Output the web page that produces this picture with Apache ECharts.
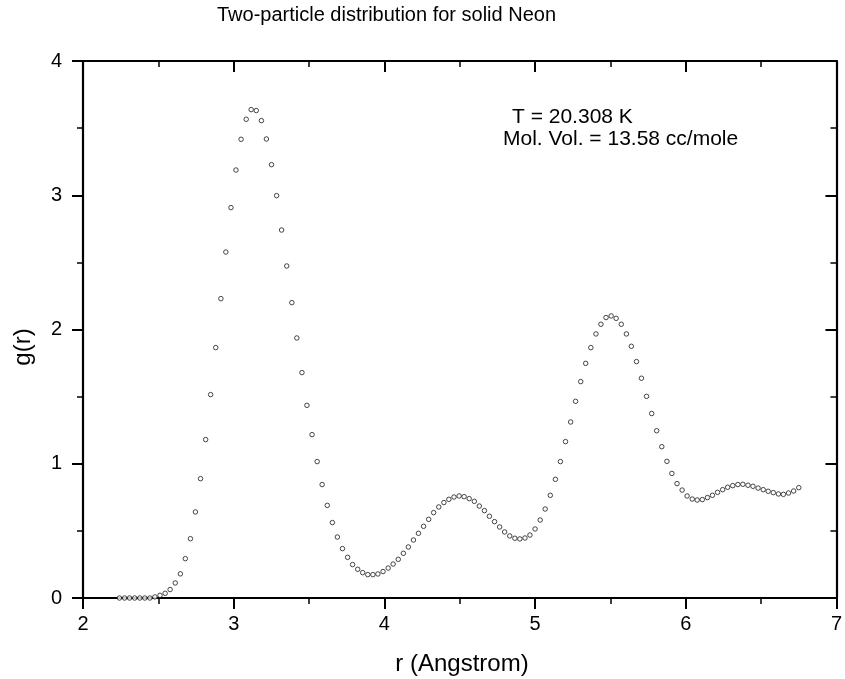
<!DOCTYPE html>
<html>
<head>
<meta charset="utf-8">
<script src="https://cdn.jsdelivr.net/npm/echarts@6/dist/echarts.min.js"></script>
<style>
html,body{margin:0;padding:0;background:#fff;}
#c{width:845px;height:679px;}
</style>
</head>
<body>
<div id="c"></div>
<script>
var rValues = [2.242,2.276,2.309,2.343,2.377,2.410,2.444,2.477,2.511,2.545,
2.578,2.612,2.646,2.679,2.713,2.746,2.780,2.814,2.847,2.881,
2.915,2.948,2.982,3.015,3.049,3.083,3.116,3.150,3.184,3.217,
3.251,3.285,3.318,3.352,3.386,3.419,3.453,3.486,3.520,3.554,
3.587,3.621,3.655,3.688,3.722,3.756,3.789,3.823,3.856,3.890,
3.924,3.957,3.991,4.025,4.058,4.092,4.126,4.159,4.193,4.226,
4.260,4.294,4.327,4.361,4.395,4.428,4.462,4.496,4.529,4.563,
4.597,4.630,4.664,4.697,4.731,4.765,4.798,4.832,4.866,4.899,
4.933,4.966,5.000,5.034,5.067,5.101,5.135,5.168,5.202,5.236,
5.269,5.303,5.336,5.370,5.404,5.437,5.471,5.505,5.538,5.572,
5.606,5.639,5.673,5.706,5.740,5.774,5.807,5.841,5.875,5.908,
5.942,5.976,6.009,6.043,6.076,6.110,6.144,6.177,6.211,6.245,
6.278,6.312,6.346,6.379,6.413,6.446,6.480,6.514,6.547,6.581,
6.615,6.648,6.682,6.716,6.750];

var gValues = [0,0,0,0,0,0,0,0.008,0.02,0.035,
0.063,0.112,0.18,0.293,0.442,0.641,0.889,1.18,1.515,1.865,
2.230,2.577,2.908,3.188,3.417,3.566,3.638,3.631,3.556,3.419,
3.228,2.997,2.741,2.473,2.200,1.937,1.679,1.435,1.217,1.016,
0.845,0.690,0.562,0.454,0.368,0.303,0.249,0.214,0.189,0.174,
0.174,0.179,0.197,0.223,0.253,0.288,0.333,0.380,0.432,0.482,
0.534,0.586,0.636,0.678,0.711,0.735,0.752,0.760,0.755,0.740,
0.720,0.685,0.651,0.609,0.569,0.529,0.492,0.462,0.445,0.440,
0.447,0.469,0.514,0.581,0.663,0.765,0.884,1.016,1.165,1.311,
1.465,1.612,1.748,1.865,1.967,2.039,2.089,2.101,2.083,2.039,
1.967,1.875,1.761,1.637,1.502,1.374,1.246,1.127,1.018,0.928,
0.852,0.804,0.760,0.737,0.730,0.733,0.748,0.765,0.787,0.807,
0.825,0.837,0.845,0.847,0.840,0.832,0.819,0.807,0.795,0.785,
0.775,0.772,0.782,0.797,0.822];

var titleText = 'Two-particle distribution for solid Neon';
var noteLines = ['T = 20.308 K', 'Mol. Vol. = 13.58 cc/mole'];
var xName = 'r (Angstrom)';
var yName = 'g(r)';

var FONT = '"Liberation Sans", Arial, sans-serif';
var points = rValues.map(function (r, i) { return [r, gValues[i]]; });

var axisLine = { show: true, onZero: false, lineStyle: { color: '#000', width: 2.2 } };
function ticks(inside) {
  return {
    axisTick: { show: true, inside: inside, length: 11, lineStyle: { color: '#000', width: 2 } },
    minorTick: { show: true, splitNumber: 2, length: 6, lineStyle: { color: '#000', width: 1.5 } }
  };
}
function xAxis(pos, showLabel, inside) {
  var t = ticks(inside);
  return {
    type: 'value', position: pos, min: 2, max: 7, interval: 1,
    axisLine: axisLine, axisTick: t.axisTick, minorTick: t.minorTick,
    splitLine: { show: false }, minorSplitLine: { show: false },
    axisLabel: { show: showLabel, margin: 16, color: '#000', fontSize: 20, fontFamily: FONT }
  };
}
function yAxis(pos, showLabel, inside) {
  var t = ticks(inside);
  return {
    type: 'value', position: pos, min: 0, max: 4, interval: 1,
    axisLine: axisLine, axisTick: t.axisTick, minorTick: t.minorTick,
    splitLine: { show: false }, minorSplitLine: { show: false },
    axisLabel: { show: showLabel, margin: 21, color: '#000', fontSize: 20, fontFamily: FONT }
  };
}

var chart = echarts.init(document.getElementById('c'), null, { renderer: 'canvas' });
chart.setOption({
  backgroundColor: '#fff',
  animation: false,
  grid: { left: 83, right: 3, top: 61, bottom: 81, containLabel: false },
  xAxis: [xAxis('bottom', true, false), xAxis('top', false, true)],
  yAxis: [yAxis('left', true, false), yAxis('right', false, true)],
  series: [{
    type: 'scatter',
    xAxisIndex: 0, yAxisIndex: 0,
    data: points,
    symbol: 'circle',
    symbolSize: 4.5,
    itemStyle: { color: '#fff', borderColor: '#1a1a1a', borderWidth: 1 },
    emphasis: { disabled: true },
    clip: false
  }],
  graphic: [
    { type: 'text', left: 217, top: 5, style: { text: titleText, font: '20px ' + FONT, fill: '#000' } },
    { type: 'text', left: 512, top: 107, style: { text: noteLines[0], font: '21px ' + FONT, fill: '#000' } },
    { type: 'text', left: 503, top: 129, style: { text: noteLines[1], font: '21px ' + FONT, fill: '#000' } },
    { type: 'text', x: 462, y: 664, style: { text: xName, font: '24px ' + FONT, fill: '#000', align: 'center', verticalAlign: 'middle' } },
    { type: 'text', x: 23, y: 347, rotation: Math.PI / 2, style: { text: yName, font: '24px ' + FONT, fill: '#000', align: 'center', verticalAlign: 'middle' } }
  ]
});
</script>
</body>
</html>
